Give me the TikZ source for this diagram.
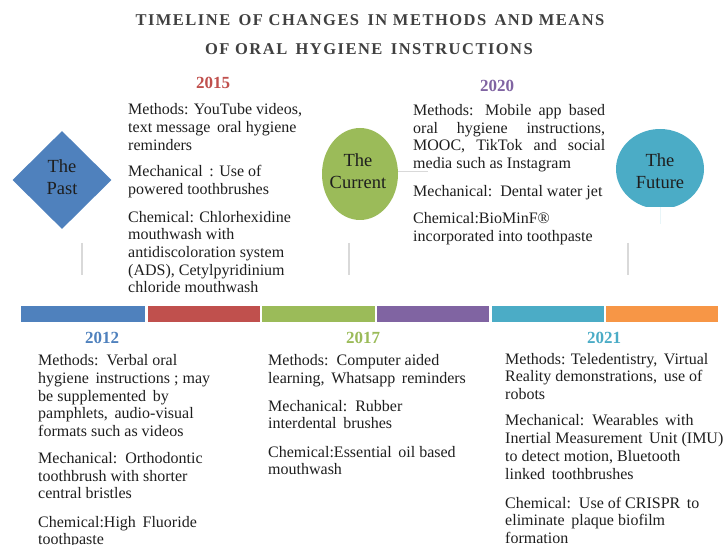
\documentclass[tikz,border=0pt]{standalone}
\usepackage{fontspec}
\setmainfont{Liberation Serif}
\newfontfamily\titlefont[LetterSpace=9]{Liberation Serif}
\usetikzlibrary{shapes.geometric}
\definecolor{cblue}{HTML}{4F81BD}
\definecolor{cred}{HTML}{C0504D}
\definecolor{cgreen}{HTML}{9BBB59}
\definecolor{cpurple}{HTML}{8064A2}
\definecolor{ccyan}{HTML}{4BACC6}
\definecolor{corange}{HTML}{F79646}
\definecolor{txtcol}{HTML}{1E1E1E}
\definecolor{titlecol}{HTML}{404040}
\definecolor{linecol}{HTML}{D9D9D9}
\tikzset{
  para/.style={font=\fontsize{16}{17.7}\selectfont, align=left, inner sep=0pt, anchor=base west, text=txtcol},
  yearlbl/.style={font=\fontsize{17}{20}\selectfont\bfseries, inner sep=0pt, anchor=base},
  shapetext/.style={font=\fontsize{18.5}{22}\selectfont, align=center, text=txtcol},
  seg/.style={inner sep=0pt, anchor=north west, minimum height=16pt},
  vline/.style={draw=linecol, line width=1.5pt},
  titletext/.style={font=\fontsize{16.5}{20}\titlefont\bfseries, text=titlecol, inner sep=0pt, anchor=base}
}
\begin{document}
\begin{tikzpicture}[x=1pt,y=-1pt]
\useasboundingbox (0,0) rectangle (723,545);
% title
\node[titletext] (t1) at (370,26) {TIMELINE\, OF CHANGES\, IN METHODS\, AND MEANS};
\node[titletext] (t2) at (369,55) {OF ORAL\, HYGIENE\, INSTRUCTIONS};

% shapes
\node[diamond, fill=cblue, minimum width=99pt, minimum height=98pt, inner sep=0pt, shape aspect=1] (past) at (62,180) {};
\node[shapetext] (pastt) at (62,177) {The\\Past};

\node[ellipse, fill=cgreen, minimum width=76pt, minimum height=92pt, inner sep=0pt] (cur) at (360,174) {};
\node[shapetext] (curt) at (358,171) {The\\Current};
\coordinate (curend) at (428,172);
\draw[draw=linecol, line width=1pt] (cur.east |- curend) -- (curend);

\fill[ccyan] (660,224) -- (660,169) ++(108.5:44 and 40) arc[start angle=108.5, end angle=431.5, x radius=44, y radius=40] -- cycle;
\node[shapetext] (fut) at (660,171) {The\\Future};

% vertical lines
\coordinate (v1t) at (82,243); \coordinate (v1b) at (82,275);
\coordinate (v2t) at (349,243); \coordinate (v2b) at (349,275);
\coordinate (v3t) at (628,243); \coordinate (v3b) at (628,275);
\draw[vline] (v1t) -- (v1b);
\draw[vline] (v2t) -- (v2b);
\draw[vline] (v3t) -- (v3b);

% bar
\node[seg, fill=cblue, minimum width=124pt] (s1) at (21,306) {};
\node[seg, fill=cred, minimum width=112pt] (s2) at (148,306) {};
\node[seg, fill=cgreen, minimum width=113pt] (s3) at (262,306) {};
\node[seg, fill=cpurple, minimum width=112pt] (s4) at (377,306) {};
\node[seg, fill=ccyan, minimum width=112pt] (s5) at (492,306) {};
\node[seg, fill=corange, minimum width=112pt] (s6) at (606,306) {};

% years
\node[yearlbl, text=cred] (y2015) at (213,89) {2015};
\node[yearlbl, text=cpurple] (y2020) at (497,92) {2020};
\node[yearlbl, text=cblue] (y2012) at (102,344) {2012};
\node[yearlbl, text=cgreen] (y2017) at (363,344) {2017};
\node[yearlbl, text=ccyan] (y2021) at (604,344) {2021};

% 2015 (anchor = baseline of last line)
\node[para] (p15a) at (128,150.4) {Methods: YouTube videos,\\text message\, oral hygiene\\reminders};
\node[para] (p15b) at (128,194.7) {Mechanical\, : Use of\\powered toothbrushes};
\node[para] (p15c) at (128,292.8) {Chemical: Chlorhexidine\\mouthwash with\\antidiscoloration system\\(ADS), Cetylpyridinium\\chloride mouthwash};

% 2020
\node[para] (p20a) at (413,168.5) {\makebox[192pt][s]{Methods: Mobile app based}\\\makebox[192pt][s]{oral hygiene instructions,}\\\makebox[192pt][s]{MOOC, TikTok and social}\\media such as Instagram};
\node[para] (p20b) at (413,197) {Mechanical:\, Dental water jet};
\node[para] (p20c) at (413,241.7) {Chemical:BioMinF®\\incorporated into toothpaste};

% 2012
\node[para] (p12a) at (38,436.5) {Methods:\, Verbal oral\\hygiene\, instructions ; may\\be supplemented\, by\\pamphlets,\, audio-visual\\formats such as videos};
\node[para] (p12b) at (38,498.8) {Mechanical:\, Orthodontic\\toothbrush with shorter\\central bristles};
\node[para] (p12c) at (38,544.7) {Chemical:High\, Fluoride\\toothpaste};

% 2017
\node[para] (p17a) at (268,383.5) {Methods:\, Computer aided\\learning,\, Whatsapp\, reminders};
\node[para] (p17b) at (268,428.7) {Mechanical:\, Rubber\\interdental\, brushes};
\node[para] (p17c) at (268,474.7) {Chemical:Essential\, oil based\\mouthwash};

% 2021
\node[para] (p21a) at (505,399.4) {Methods: Teledentistry,\, Virtual\\Reality demonstrations,\, use of\\robots};
\node[para] (p21b) at (505,479) {Mechanical:\, Wearables\, with\\Inertial Measurement\, Unit (IMU)\\to detect motion, Bluetooth\\linked\, toothbrushes};
\node[para] (p21c) at (505,543.4) {Chemical:\, Use of CRISPR\, to\\eliminate\, plaque biofilm\\formation};
\end{tikzpicture}
\end{document}
